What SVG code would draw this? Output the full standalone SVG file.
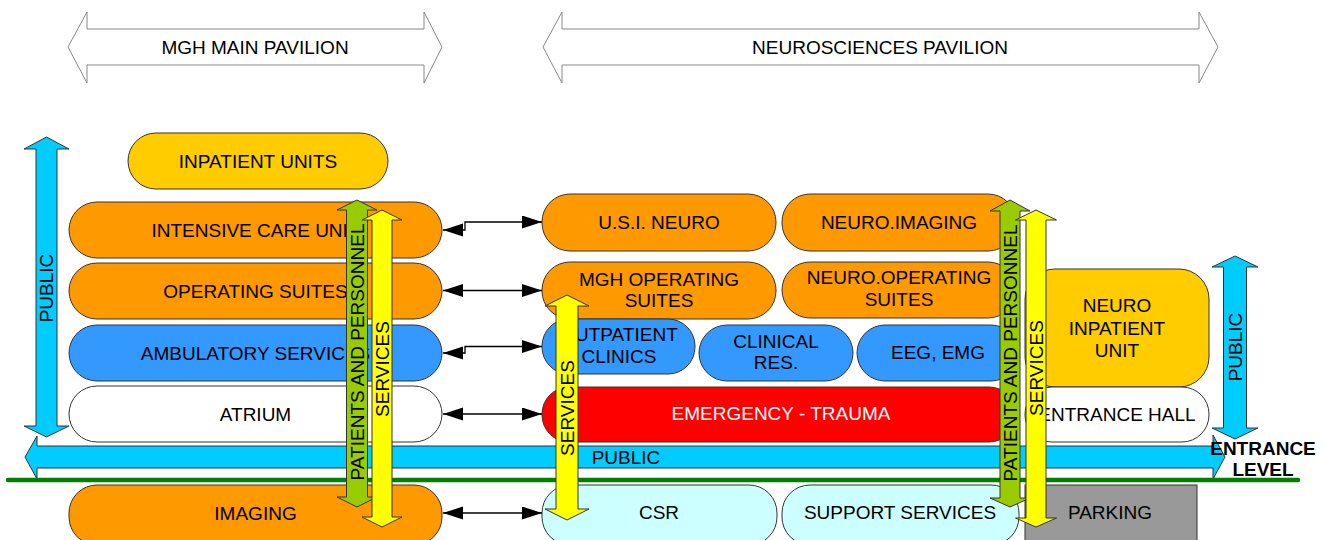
<svg xmlns="http://www.w3.org/2000/svg" width="1325" height="540" viewBox="0 0 1325 540">
<defs>
<style>
text{font-family:"Liberation Sans",Arial,sans-serif;font-size:19px;fill:#000;text-anchor:middle;dominant-baseline:central}
.nd{stroke:#333;stroke-width:1}
.or{fill:#FF9900}.gd{fill:#FFCC00}.bl{fill:#3399FF}.wh{fill:#fff}.lc{fill:#CCFFFF}.rd{fill:#FF0000}.gy{fill:#999999}
.pav{fill:#fff;stroke:#888;stroke-width:1}
.pub{fill:#00CCFF;stroke:#333;stroke-width:1}
.grn{fill:#99CC00;stroke:#333;stroke-width:1}
.yel{fill:#FFFF00;stroke:#333;stroke-width:1}
.con{fill:none;stroke:#000;stroke-width:1.3;marker-start:url(#ah);marker-end:url(#ah)}
.bold{font-weight:bold}
</style>
<marker id="ah" markerUnits="userSpaceOnUse" markerWidth="21" markerHeight="14" refX="20" refY="6.5" orient="auto-start-reverse"><path d="M0,0 L20,6.5 L0,13 Z" fill="#000"/></marker>
</defs>
<rect width="1325" height="540" fill="#fff"/>

<g id="pav-mgh"><polygon class="pav" points="68,47 87,12 87,29 424,29 424,12 442,47 424,83 424,65 87,65 87,83"/><text x="255" y="47">MGH MAIN PAVILION</text></g>
<g id="pav-neuro"><polygon class="pav" points="543,47 562,12 562,29 1199,29 1199,12 1218,47 1199,83 1199,65 562,65 562,83"/><text x="880" y="47">NEUROSCIENCES PAVILION</text></g>

<g id="public-band"><polygon class="pub" points="25,457 37,436 37,446 1213,446 1213,435 1225,457 1213,479 1213,468 37,468 37,479"/><text x="626" y="457">PUBLIC</text></g>
<line id="entrance-line" x1="8" y1="480" x2="1298" y2="480" stroke="#008000" stroke-width="4.5" stroke-linecap="round"/>

<g id="inpatient"><rect class="nd gd" x="128" y="133" width="260" height="56" rx="28"/><text x="258" y="161">INPATIENT UNITS</text></g>
<g id="icu"><rect class="nd or" x="69" y="202" width="373" height="56" rx="28"/><text x="255.5" y="230">INTENSIVE CARE UNIT</text></g>
<g id="opsuites"><rect class="nd or" x="69" y="263" width="373" height="56" rx="28"/><text x="255.5" y="291">OPERATING SUITES</text></g>
<g id="ambulatory"><rect class="nd bl" x="69" y="325" width="373" height="56" rx="28"/><text x="255.5" y="353">AMBULATORY SERVICES</text></g>
<g id="atrium"><rect class="nd wh" x="69" y="386" width="373" height="56" rx="28"/><text x="255.5" y="414">ATRIUM</text></g>
<g id="imaging"><rect class="nd or" x="69" y="485" width="373" height="60" rx="28"/><text x="255.5" y="513">IMAGING</text></g>

<g id="usi"><rect class="nd or" x="542" y="194" width="234" height="57" rx="28"/><text x="659" y="222">U.S.I. NEURO</text></g>
<g id="neuroimaging"><rect class="nd or" x="782" y="194" width="234" height="57" rx="28"/><text x="899" y="222">NEURO.IMAGING</text></g>
<g id="mghos"><rect class="nd or" x="542" y="262" width="234" height="57" rx="28"/><text x="659" y="279">MGH OPERATING</text><text x="659" y="300">SUITES</text></g>
<g id="neuroos"><rect class="nd or" x="782" y="262" width="234" height="56" rx="28"/><text x="899" y="277">NEURO.OPERATING</text><text x="899" y="299">SUITES</text></g>
<g id="outpatient"><rect class="nd bl" x="542" y="319" width="153" height="55" rx="27"/><text x="619" y="334">OUTPATIENT</text><text x="619" y="356">CLINICS</text></g>
<g id="clinical"><rect class="nd bl" x="699" y="325" width="154" height="56" rx="28"/><text x="776" y="341">CLINICAL</text><text x="776" y="362">RES.</text></g>
<g id="eeg"><rect class="nd bl" x="857" y="325" width="162" height="56" rx="28"/><text x="938" y="352">EEG, EMG</text></g>
<g id="emergency"><rect class="nd rd" x="542" y="387" width="474" height="55" rx="27"/><text x="781" y="413" fill="#fff" style="fill:#fff">EMERGENCY - TRAUMA</text></g>
<g id="csr"><rect class="nd lc" x="542" y="485" width="235" height="60" rx="28"/><text x="659" y="512">CSR</text></g>
<g id="support"><rect class="nd lc" x="782" y="485" width="237" height="60" rx="28"/><text x="900" y="512">SUPPORT SERVICES</text></g>

<g id="neuroinpatient"><rect class="nd gd" x="1025" y="269" width="184" height="118" rx="30"/><text x="1117" y="305">NEURO</text><text x="1117" y="328">INPATIENT</text><text x="1117" y="350">UNIT</text></g>
<g id="entrancehall"><rect class="nd wh" x="1025" y="387" width="184" height="55" rx="27"/><text x="1117" y="414">ENTRANCE HALL</text></g>
<g id="parking"><rect class="nd gy" x="1025" y="485" width="172" height="60"/><text x="1110" y="512">PARKING</text></g>

<g id="connectors">
<path class="con" d="M443,230 H465 V222 H542"/>
<path class="con" d="M443,290.5 H542"/>
<path class="con" d="M443,353 H465 V346.5 H542"/>
<path class="con" d="M443,414 H542"/>
<path class="con" d="M443,513 H542"/>
</g>

<g id="public-left"><polygon class="pub" points="46.5,137 69,149 57,149 57,426 69,426 46.5,437 24,426 36,426 36,149 24,149"/><text transform="translate(46.5,288) rotate(-90)">PUBLIC</text></g>
<g id="public-right"><polygon class="pub" points="1235,256 1258,267 1246.5,267 1246.5,428 1258,428 1235,439 1212,428 1223.5,428 1223.5,267 1212,267"/><text transform="translate(1235,347) rotate(-90)">PUBLIC</text></g>

<g id="pp-left"><polygon class="grn" points="357,200 377,210 367.5,210 367.5,497 377,497 357,507 337,497 346.5,497 346.5,210 337,210"/><text transform="translate(357,352) rotate(-90)">PATIENTS AND PERSONNEL</text></g>
<g id="serv-left"><polygon class="yel" points="382,210 402,220 392,220 392,517 402,517 382,527 362,517 372,517 372,220 362,220"/><text transform="translate(382,369) rotate(-90)">SERVICES</text></g>
<g id="serv-mid"><polygon class="yel" points="567,295 589,306 578,306 578,509 589,509 567,520 545,509 556,509 556,306 545,306"/><text transform="translate(567,408) rotate(-90)">SERVICES</text></g>
<g id="pp-right"><polygon class="grn" points="1010,200 1030,211 1020,211 1020,498 1030,498 1010,507 990,498 1000,498 1000,211 990,211"/><text transform="translate(1010,353) rotate(-90)">PATIENTS AND PERSONNEL</text></g>
<g id="serv-right"><polygon class="yel" points="1036,210 1056.5,220 1046,220 1046,518 1056.5,518 1036,527 1015.5,518 1026,518 1026,220 1015.5,220"/><text transform="translate(1036,368) rotate(-90)">SERVICES</text></g>

<g id="entrance-level"><text class="bold" x="1263" y="448">ENTRANCE</text><text class="bold" x="1263" y="469">LEVEL</text></g>
</svg>
